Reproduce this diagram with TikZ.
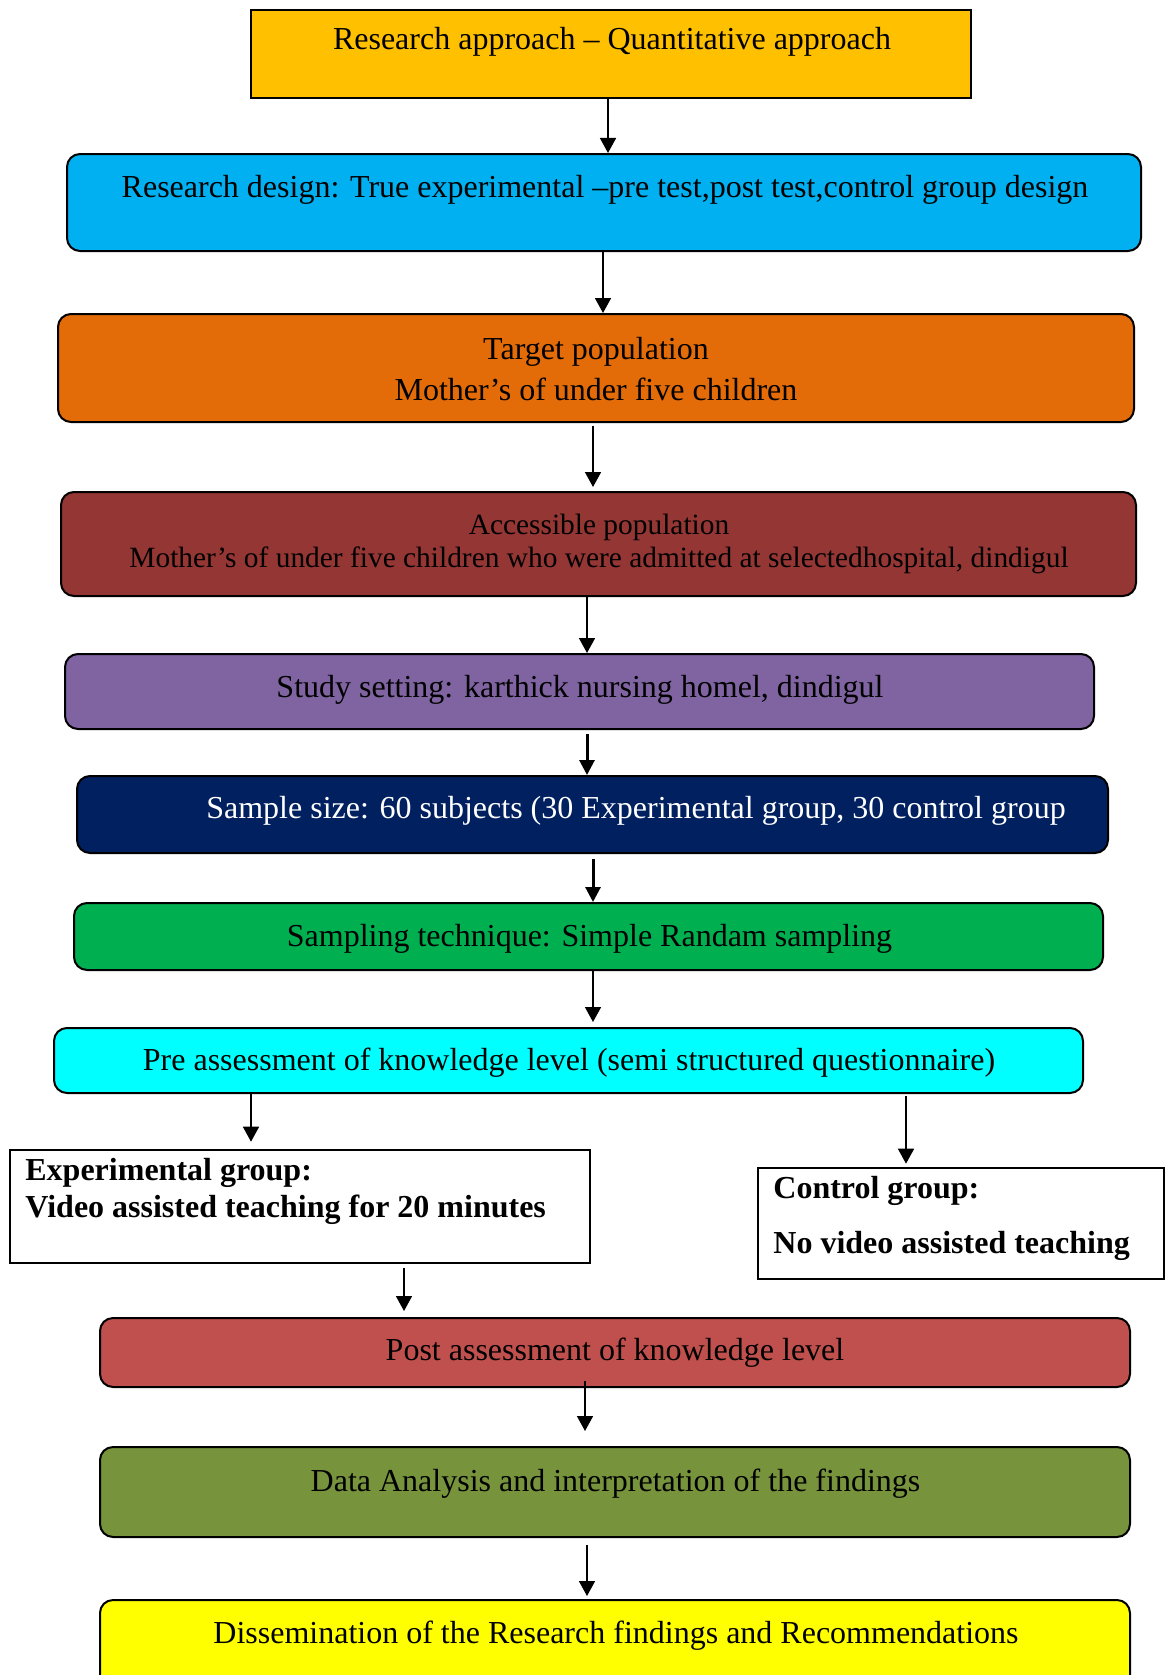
\documentclass[tikz,border=0pt]{standalone}
\usepackage{fontspec}
\setmainfont{Liberation Serif}
\usetikzlibrary{arrows.meta}
\definecolor{cra}{HTML}{FFC000}
\definecolor{crd}{HTML}{00B0F0}
\definecolor{ctp}{HTML}{E36C09}
\definecolor{cap}{HTML}{943634}
\definecolor{css}{HTML}{8064A2}
\definecolor{csz}{HTML}{002060}
\definecolor{cst}{HTML}{00B050}
\definecolor{cpa}{HTML}{00FFFF}
\definecolor{cpo}{HTML}{C0504D}
\definecolor{cda}{HTML}{77933C}
\definecolor{cdi}{HTML}{FFFF00}
\begin{document}
\begin{tikzpicture}[x=0.5pt,y=-0.5pt,
  rbox/.style={draw, line width=1pt, rounded corners=6.5pt, inner sep=0pt},
  sbox/.style={draw, line width=1.3pt, inner sep=0pt, fill=white},
  txt/.style={anchor=base, inner sep=0pt, font=\fontsize{16}{19}\selectfont},
  stxt/.style={anchor=base, inner sep=0pt, font=\fontsize{14.7}{18}\selectfont},
  btxt/.style={anchor=base west, inner sep=0pt, font=\fontsize{16}{19}\selectfont\bfseries},
  arr/.style={-{Triangle[length=7.5pt,width=8pt]}, line width=0.8pt},
  tarr/.style={-{Triangle[length=7.5pt,width=7.5pt]}, line width=1.5pt}]
\path[use as bounding box] (0,0) rectangle (1166,1675);
\clip (0,0) rectangle (1166,1675);
% boxes
\node[sbox, line width=1pt, fill=cra, minimum width=360pt, minimum height=44pt] (ra) at (611,54) {};
\node[rbox, fill=crd, minimum width=537pt, minimum height=48.5pt] (rd) at (604,202.5) {};
\node[rbox, fill=ctp, minimum width=538pt, minimum height=54pt] (tp) at (596,368) {};
\node[rbox, fill=cap, minimum width=537.5pt, minimum height=52pt] (ap) at (598.5,544) {};
\node[rbox, fill=css, minimum width=514.5pt, minimum height=37.5pt] (ss) at (579.5,691.5) {};
\node[rbox, fill=csz, minimum width=515.5pt, minimum height=38.5pt] (sz) at (592.5,814.5) {};
\node[rbox, fill=cst, minimum width=514.5pt, minimum height=33.5pt] (st) at (588.5,936.5) {};
\node[rbox, fill=cpa, minimum width=514.5pt, minimum height=32.5pt] (pa) at (568.5,1060.5) {};
\node[sbox, minimum width=290pt, minimum height=56.5pt] (eg) at (300,1206.5) {};
\node[sbox, minimum width=203pt, minimum height=55.5pt] (cg) at (961,1223.5) {};
\node[rbox, fill=cpo, minimum width=515pt, minimum height=34.5pt] (po) at (615,1352.5) {};
\node[rbox, fill=cda, minimum width=515pt, minimum height=45pt] (da) at (615,1492) {};
\node[rbox, fill=cdi, minimum width=515pt, minimum height=50pt] (di) at (615,1650) {};
% texts
\node[txt] (ra-t) at (612,50) {Research approach – Quantitative approach};
\node[txt] (rd-t) at (605,197) {Research design: True experimental –pre test,post test,control group design};
\node[txt] (tp-t1) at (596,359) {Target population};
\node[txt] (tp-t2) at (596,400) {Mother’s of under five children};
\node[stxt] (ap-t1) at (599,534) {Accessible population};
\node[stxt] (ap-t2) at (599,567) {Mother’s of under five children who were admitted at selectedhospital, dindigul};
\node[txt] (ss-t) at (580,697) {Study setting: karthick nursing homel, dindigul};
\node[txt, text=white] (sz-t) at (636,818) {Sample size: 60 subjects (30 Experimental group, 30 control group};
\node[txt] (st-t) at (589.5,946) {Sampling technique: Simple Randam sampling};
\node[txt] (pa-t) at (569,1070) {Pre assessment of knowledge level (semi structured questionnaire)};
\node[btxt] (eg-t1) at (25,1180) {Experimental group:};
\node[btxt] (eg-t2) at (25,1217) {Video assisted teaching for 20 minutes};
\node[btxt] (cg-t1) at (773,1198) {Control group:};
\node[btxt] (cg-t2) at (773,1253) {No video assisted teaching};
\node[txt] (po-t) at (615,1360) {Post assessment of knowledge level};
\node[txt] (da-t) at (615.5,1491) {Data Analysis and interpretation of the findings};
\node[txt] (di-t) at (616,1643) {Dissemination of the Research findings and Recommendations};
% arrows
\draw[arr] (ra.south -| 608,0) -- (rd.north -| 608,0);
\draw[arr] (rd.south -| 603,0) -- (tp.north -| 603,0);
\draw[arr, shorten <=1.5pt, shorten >=2pt] (tp.south -| 593,0) -- (ap.north -| 593,0);
\draw[arr] (ap.south -| 587,0) -- (ss.north -| 587,0);
\draw[tarr, shorten <=2pt] (ss.south -| 587,0) -- (sz.north -| 587,0);
\draw[tarr, shorten <=2.5pt] (sz.south -| 593,0) -- (st.north -| 593,0);
\draw[arr, shorten >=2.5pt] (st.south -| 593,0) -- (pa.north -| 593,0);
\draw[arr, shorten >=3.5pt] (pa.south -| 251,0) -- (eg.north -| 251,0);
\draw[arr, shorten <=1pt, shorten >=1.5pt] (pa.south -| 906,0) -- (cg.north -| 906,0);
\draw[arr, shorten <=2pt, shorten >=3pt] (eg.south -| 404,0) -- (po.north -| 404,0);
\draw[arr, shorten <=-3.5pt, shorten >=7.5pt] (po.south -| 585,0) -- (da.north -| 585,0);
\draw[arr, shorten <=3.5pt, shorten >=1.5pt] (da.south -| 587,0) -- (di.north -| 587,0);
\end{tikzpicture}
\end{document}
